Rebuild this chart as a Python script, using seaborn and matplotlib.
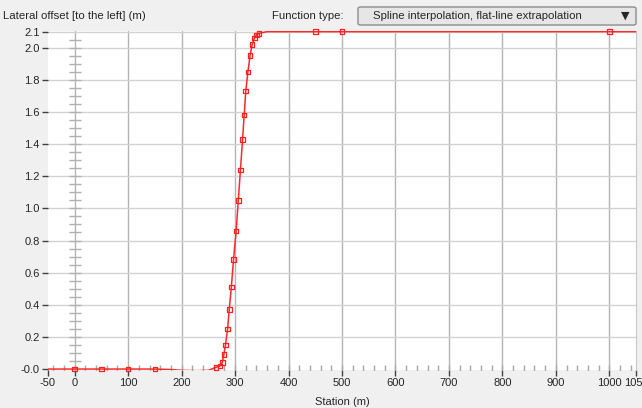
import numpy as np
import pandas as pd
import matplotlib.pyplot as plt
import seaborn as sns
from matplotlib.patches import FancyBboxPatch

# control points (markers)
stations = [0, 50, 100, 150, 264, 272, 276, 279, 282, 286, 289, 293, 297, 302,
            306, 310, 314, 317, 320, 324, 328, 332, 336, 340, 345, 450, 500, 1000]
offsets = [0.0, 0.0, 0.0, 0.0, 0.01, 0.02, 0.04, 0.09, 0.15, 0.25, 0.37, 0.51,
           0.68, 0.86, 1.05, 1.24, 1.43, 1.58, 1.73, 1.85, 1.95, 2.02, 2.06,
           2.08, 2.09, 2.1, 2.1, 2.1]

# spline curve (incl. the small dip and flat ends)
curve_stations = [-50, 0, 50, 100, 150, 180, 200, 230, 250, 264, 272, 276, 279,
                  282, 286, 289, 293, 297, 302, 306, 310, 314, 317, 320, 324,
                  328, 332, 336, 340, 345, 360, 450, 500, 1000, 1050]
curve_offsets = [0.0, 0.0, 0.0, 0.0, 0.0, -0.003, -0.008, -0.01, -0.008, 0.01,
                 0.02, 0.04, 0.09, 0.15, 0.25, 0.37, 0.51, 0.68, 0.86, 1.05,
                 1.24, 1.43, 1.58, 1.73, 1.85, 1.95, 2.02, 2.06, 2.08, 2.09,
                 2.1, 2.1, 2.1, 2.1, 2.1]

x_ticks = [-50, 0, 100, 200, 300, 400, 500, 600, 700, 800, 900, 1000, 1050]
y_ticks = [0.0, 0.2, 0.4, 0.6, 0.8, 1.0, 1.2, 1.4, 1.6, 1.8, 2.0, 2.1]
y_labels = ["-0.0", "0.2", "0.4", "0.6", "0.8", "1.0", "1.2", "1.4", "1.6",
            "1.8", "2.0", "2.1"]

sns.set_style("white")
plt.rcParams['font.family'] = ['Liberation Sans', 'DejaVu Sans']

bg = "#f0f0f0"
fig = plt.figure(figsize=(6.42, 4.08), dpi=100, facecolor=bg)
ax = fig.add_axes([48 / 642, 38 / 408, 588 / 642, 339 / 408])
ax.set_facecolor("white")

ax.set_xlim(-50, 1050)
ax.set_ylim(-0.006, 2.104)

# grid
for xv in range(0, 1001, 100):
    ax.axvline(xv, color="#b4b4b4", lw=1, zorder=0)
for yv in y_ticks[1:]:
    ax.axhline(yv, color="#d2d2d2", lw=1, zorder=0)

# small ticks along the axes through the origin
xt = np.arange(-40, 1050, 20)
yt = np.arange(0.05, 2.1, 0.05)
ax.plot(xt, np.zeros(len(xt)), ls="none", marker="|", ms=6,
        color="#a8a8a8", zorder=1)
ax.plot(np.zeros(len(yt)), yt, ls="none", marker="_", ms=8,
        color="#b0b0b0", zorder=1)

curve = pd.DataFrame({"station": curve_stations, "offset": curve_offsets})
pts = pd.DataFrame({"station": stations, "offset": offsets})
sns.lineplot(data=curve, x="station", y="offset", ax=ax, color="#ff2a2a",
             lw=1.1, zorder=3)
sns.scatterplot(data=pts, x="station", y="offset", ax=ax, marker="s", s=11,
                facecolor="none", edgecolor="#ff2020", linewidth=0.9, zorder=4,
                clip_on=False)

ax.set_xticks(x_ticks)
ax.set_xticklabels([str(v) for v in x_ticks])
ax.set_yticks(y_ticks)
ax.set_yticklabels(y_labels)
ax.tick_params(axis="both", labelsize=8, length=4, width=1, color="#404040",
               direction="out", pad=2, bottom=True, left=True)
for s in ["top", "left", "bottom"]:
    ax.spines[s].set_visible(False)
ax.spines["right"].set_color("#c8c8c8")
ax.set_xlabel("Station (m)", fontsize=8, labelpad=6)
ax.set_ylabel("")

# header
fig.text(3 / 642, 1 - 16 / 408, "Lateral offset [to the left] (m)",
         fontsize=8.2, va="center", ha="left")
fig.text(272 / 642, 1 - 16 / 408, "Function type:", fontsize=8.2,
         va="center", ha="left")
box = FancyBboxPatch((358 / 642, 1 - 25 / 408), 278 / 642, 18 / 408,
                     boxstyle="round,pad=0,rounding_size=0.004",
                     transform=fig.transFigure, facecolor="#e6e6e6",
                     edgecolor="#8c8c8c", lw=1)
fig.patches.append(box)
fig.text(373 / 642, 1 - 16 / 408,
         "Spline interpolation, flat-line extrapolation", fontsize=8.2,
         va="center", ha="left")
fig.text(625 / 642, 1 - 16 / 408, "▼", fontsize=8, va="center", ha="center",
         family=["DejaVu Sans"])

fig.savefig("out.png", dpi=100, facecolor=bg)
